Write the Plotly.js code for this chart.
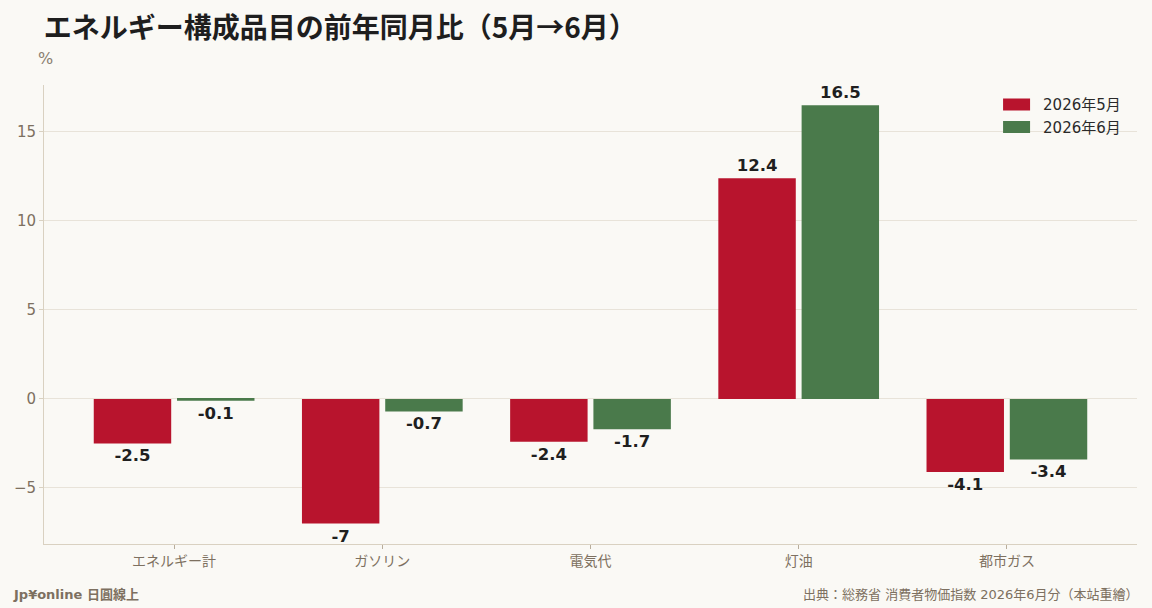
<!DOCTYPE html>
<html>
<head>
<meta charset="utf-8">
<script src="https://cdn.plot.ly/plotly-3.0.1.min.js"></script>
<style>
  html, body { margin: 0; padding: 0; background: #faf9f5; }
  #chart { width: 1152px; height: 608px; }
</style>
</head>
<body>
<div id="chart"></div>
<script>
// ── データ ────────────────────────────────────────────
const categories = ['エネルギー計', 'ガソリン', '電気代', '灯油', '都市ガス'];
const mayValues  = [-2.5, -7, -2.4, 12.4, -4.1];
const juneValues = [-0.1, -0.7, -1.7, 16.5, -3.4];
const seriesNames = ['2026年5月', '2026年6月'];
const yTicks = [-5, 0, 5, 10, 15];

const FONT = '"DejaVu Sans", "Noto Sans CJK JP", sans-serif';
const CJK  = '"Noto Sans CJK JP", "DejaVu Sans", sans-serif';
const MUTED = '#7d7060';

function barTrace(name, values, color) {
  return {
    type: 'bar',
    name: name,
    x: categories,
    y: values,
    marker: { color: color },
    text: values.map(v => String(v)),
    textposition: 'outside',
    cliponaxis: false,
    textfont: { family: FONT, size: 16.5, color: '#1f1f1f', weight: 'bold' },
    hovertemplate: '%{x}: %{y}%<extra>' + name + '</extra>'
  };
}

const traces = [
  barTrace(seriesNames[0], mayValues, '#b8142d'),
  barTrace(seriesNames[1], juneValues, '#4a7a4b')
];

const layout = {
  width: 1152,
  height: 608,
  paper_bgcolor: '#faf9f5',
  plot_bgcolor:  '#faf9f5',
  font: { family: FONT, color: MUTED, size: 14 },
  margin: { t: 85, b: 64, l: 44, r: 15 },
  title: {
    text: 'エネルギー構成品目の前年同月比（5月→6月）',
    font: { family: CJK, size: 28, color: '#1e1e1e', weight: 'bold' },
    x: 0.038, xref: 'container', xanchor: 'left',
    y: 0.954, yanchor: 'middle'
  },
  barmode: 'group',
  bargap: 0.2,
  bargroupgap: 0.07,
  xaxis: {
    type: 'category',
    range: [-0.625, 4.625],
    showline: true,
    linecolor: '#d9d1c1',
    linewidth: 1,
    ticks: 'outside',
    ticklen: 4,
    tickcolor: '#b8ad9c',
    tickfont: { family: FONT, size: 14, color: MUTED },
    showgrid: false
  },
  yaxis: {
    range: [-8.15, 17.64],
    tickvals: yTicks,
    showline: true,
    linecolor: '#d9d1c1',
    linewidth: 1,
    ticks: 'outside',
    ticklen: 4,
    tickcolor: '#d9d1c1',
    gridcolor: '#e8e3d9',
    zeroline: false,
    layer: 'above traces',
    tickfont: { family: FONT, size: 15, color: MUTED }
  },
  legend: {
    x: 0.99, xanchor: 'right',
    y: 0.993, yanchor: 'top',
    bgcolor: 'rgba(0,0,0,0)',
    itemwidth: 30,
    tracegroupgap: 0,
    font: { family: FONT, size: 15, color: '#2a2a2a' }
  },
  annotations: [
    {
      text: '%', xref: 'paper', yref: 'paper',
      x: -0.007, y: 1.033, xanchor: 'left', yanchor: 'bottom',
      showarrow: false, font: { family: FONT, size: 16, color: '#8a7f70' }
    },
    {
      text: '<b>Jp¥online 日圓線上</b>', xref: 'paper', yref: 'paper',
      x: -0.03, y: -0.109, xanchor: 'left', yanchor: 'middle',
      showarrow: false, font: { family: FONT, size: 13, color: MUTED }
    },
    {
      text: '出典：総務省 消費者物価指数 2026年6月分（本站重繪）', xref: 'paper', yref: 'paper',
      x: 1.004, y: -0.109, xanchor: 'right', yanchor: 'middle',
      showarrow: false, font: { family: FONT, size: 13, color: MUTED }
    }
  ],
  showlegend: true
};

// 凡例の色見本を横長の長方形に
function widenLegendSwatches() {
  document.querySelectorAll('#chart .legend .legendpoints path').forEach(p => {
    p.setAttribute('d', 'M-23,-6H7V6H-23Z');
  });
}

Plotly.newPlot('chart', traces, layout, { displayModeBar: false, responsive: false })
  .then(widenLegendSwatches);
</script>
</body>
</html>
